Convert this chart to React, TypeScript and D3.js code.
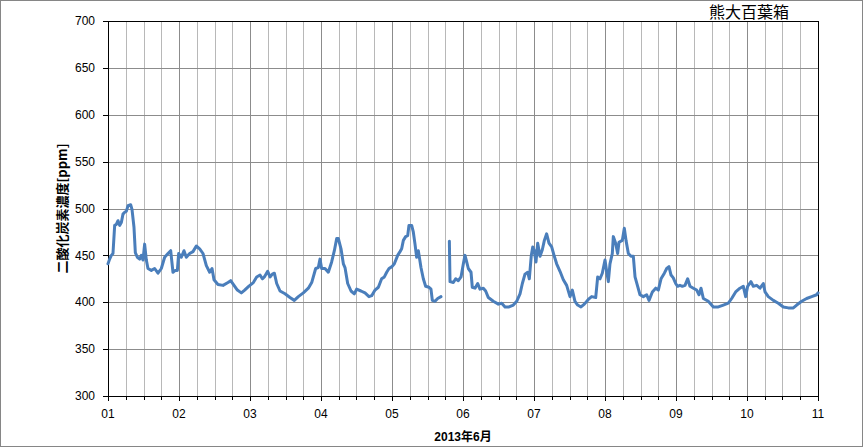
import * as d3 from 'd3';

// elapsed days since 2013-06-01 00:00 (0 = "01", 10 = "11")
const tDays: number[] = [
  0.0, 0.023, 0.047, 0.07, 0.094, 0.117, 0.141, 0.164, 0.188, 0.211, 0.235, 0.258, 0.282, 0.319, 0.338,
  0.366, 0.385, 0.413, 0.446, 0.469, 0.493, 0.516, 0.54, 0.563, 0.61, 0.657, 0.704, 0.751, 0.798, 0.845,
  0.883, 0.915, 0.948, 0.977, 0.995, 1.033, 1.07, 1.103, 1.15, 1.197, 1.244, 1.291, 1.338, 1.385, 1.432,
  1.465, 1.493, 1.549, 1.62, 1.69, 1.728, 1.775, 1.822, 1.878, 1.925, 1.981,
  2.047, 2.094, 2.141, 2.174, 2.202, 2.249, 2.282, 2.315, 2.343, 2.376, 2.423, 2.493, 2.563, 2.624, 2.681,
  2.751, 2.822, 2.869, 2.925, 2.962, 2.986, 3.009, 3.056, 3.103, 3.15, 3.188, 3.221, 3.244, 3.282, 3.315,
  3.338, 3.376, 3.423, 3.469, 3.502, 3.563, 3.62, 3.676, 3.714, 3.761, 3.808, 3.854, 3.892, 3.925, 3.958,
  4.0, 4.033, 4.08, 4.113, 4.136, 4.16, 4.192, 4.221, 4.239, 4.277, 4.3, 4.324, 4.347, 4.371, 4.408, 4.441,
  4.474, 4.521, 4.549, 4.568, 4.606, 4.643, 4.69, 4.75,
  4.808, 4.817, 4.864, 4.897, 4.934, 4.972, 5.005, 5.028, 5.052, 5.075, 5.113, 5.131, 5.169, 5.207, 5.239,
  5.286, 5.319, 5.357, 5.427, 5.498, 5.545, 5.592, 5.648, 5.709, 5.756, 5.803, 5.836, 5.873, 5.911, 5.934,
  5.962, 5.982, 6.0, 6.028, 6.052, 6.085, 6.117, 6.146, 6.178, 6.211, 6.249, 6.286, 6.319, 6.366, 6.413,
  6.46, 6.507, 6.54, 6.577, 6.615, 6.662, 6.709, 6.765, 6.812, 6.869, 6.897, 6.93, 6.962, 7.0, 7.023,
  7.047, 7.07, 7.103, 7.117, 7.15, 7.178, 7.197, 7.244, 7.272, 7.296, 7.329, 7.366, 7.399, 7.423, 7.46,
  7.493, 7.54, 7.587, 7.62, 7.667, 7.714, 7.751, 7.789, 7.836, 7.869, 7.901, 7.93, 7.962, 7.995,
  8.023, 8.056, 8.089, 8.127, 8.164, 8.197, 8.244, 8.291, 8.324, 8.352, 8.385, 8.455, 8.526, 8.596, 8.667,
  8.737, 8.784, 8.84, 8.901, 8.948, 8.981, 9.009, 9.056, 9.089, 9.136, 9.183, 9.23, 9.254, 9.3, 9.371,
  9.441, 9.512, 9.582, 9.653, 9.7, 9.77, 9.84, 9.911, 9.981, 10.0,
];

// CO2 concentration [ppm]; null = missing record
const co2: (number | null)[] = [
  441, 446, 450, 452, 482, 483, 487, 482, 485, 494, 496, 497, 503, 504, 499,
  480, 453, 448, 446, 450, 445, 462, 445, 436, 434, 436, 431, 436, 448, 452,
  455, 432, 434, 434, 452, 448, 455, 448, 452, 454, 460, 457, 452, 439, 432,
  436, 424, 419, 418, 421, 423, 418, 413, 410, 413, 417,
  421, 427, 429, 425, 427, 433, 427, 430, 431, 420, 412, 409, 405, 402, 406,
  410, 415, 421, 436, 437, 446, 436, 436, 432, 443, 455, 468, 468, 457, 441,
  437, 420, 412, 409, 414, 412, 410, 406, 407, 413, 416, 425, 427, 432, 436,
  438, 441, 450, 454, 457, 466, 470, 471, 482, 482, 475, 462, 448, 455, 437, 425,
  417, 416, 414, 402, 401, 404, 406, null,
  465, 422, 421, 425, 423, 427, 441, 450, 443, 436, 432, 416, 415, 420, 414,
  415, 412, 405, 401, 398, 399, 395, 395, 397, 401, 409, 420, 430, 432, 425,
  450, 459, 456, 443, 463, 449, 456, 466, 473, 463, 459, 449, 441, 433, 424,
  418, 406, 413, 401, 397, 395, 398, 403, 406, 405, 427, 425, 431, 445, 433,
  422, 441, 452, 470, 463, 452, 464, 466, 479, 466, 452, 449, 449, 427, 417,
  408, 406, 408, 402, 411, 415, 413, 425, 431, 436, 438, 429, 426, 420,
  417, 418, 417, 418, 425, 417, 415, 413, 408, 415, 404, 401, 395, 395, 397,
  399, 404, 411, 415, 417, 406, 417, 422, 417, 418, 415, 420, 411, 406, 402,
  399, 395, 394, 394, 397, 401, 404, 406, 408, 410,
];

const dayLabels: string[] = ['01', '02', '03', '04', '05', '06', '07', '08', '09', '10', '11'];
const yTicks: number[] = [300, 350, 400, 450, 500, 550, 600, 650, 700];

const title = '熊大百葉箱';
const yTitle = '二酸化炭素濃度[ppm]';
const xTitle = '2013年6月';

export default function App() {
  const width = 863;
  const height = 447;
  const margin = { top: 21, right: 45, bottom: 51, left: 108 };

  const x = d3.scaleLinear().domain([0, 10]).range([margin.left, width - margin.right]);
  const y = d3.scaleLinear().domain([300, 700]).range([height - margin.bottom, margin.top]);

  const points = tDays.map((t, i) => ({ t, v: co2[i] }));
  const line = d3.line<{ t: number; v: number | null }>()
    .defined(d => d.v !== null)
    .x(d => x(d.t))
    .y(d => y(d.v as number));

  // quarter-day grid (every 6 hours)
  const quarters = d3.range(0, 40.001, 1).map(q => q / 4);
  const x0 = x(0), x1 = x(10), y0 = y(300), y1 = y(700);
  const font = '"Liberation Sans", Arial, "Noto Sans CJK JP", sans-serif';

  return (
    <svg width={width} height={height} style={{ position: 'absolute', left: 0, top: 0, background: '#fff' }}>
      <rect x={0.5} y={0.5} width={width - 1} height={height - 1} fill="#fff" stroke="#868686" />

      {/* vertical grid */}
      {quarters.map((q, i) => (
        <line key={'vg' + i} x1={Math.round(x(q)) + 0.5} x2={Math.round(x(q)) + 0.5} y1={y1} y2={y0}
          stroke={i % 4 === 0 ? '#8c8c8c' : '#b8b8b8'} strokeWidth={1} />
      ))}
      {/* horizontal grid */}
      {yTicks.map(v => (
        <line key={'hg' + v} x1={x0} x2={x1} y1={Math.round(y(v)) + 0.5} y2={Math.round(y(v)) + 0.5}
          stroke="#8c8c8c" strokeWidth={1} />
      ))}

      {/* plot frame */}
      <rect x={Math.round(x0) + 0.5} y={Math.round(y1) + 0.5} width={Math.round(x1 - x0)} height={Math.round(y0 - y1)}
        fill="none" stroke="#000" strokeWidth={1} />

      {/* y axis ticks */}
      {yTicks.map(v => (
        <g key={'yt' + v}>
          <line x1={x0 - 5} x2={x0} y1={Math.round(y(v)) + 0.5} y2={Math.round(y(v)) + 0.5} stroke="#000" />
          <text x={x0 - 13} y={y(v)} dy="0.35em" textAnchor="end" fontFamily={font} fontSize={12} fill="#000">{v}</text>
        </g>
      ))}

      {/* x axis ticks */}
      {quarters.map((q, i) => (
        <line key={'xt' + i} x1={Math.round(x(q)) + 0.5} x2={Math.round(x(q)) + 0.5} y1={y0} y2={y0 + (i % 4 === 0 ? 5 : 4)}
          stroke="#000" />
      ))}
      {dayLabels.map((lab, i) => (
        <text key={'xl' + i} x={x(i)} y={y0 + 18} dy="0.35em" textAnchor="middle" fontFamily={font} fontSize={12} fill="#000">{lab}</text>
      ))}

      {/* data */}
      <path d={line(points) || ''} fill="none" stroke="#4A7EBB" strokeWidth={3} strokeLinejoin="round" strokeLinecap="round" />

      {/* titles */}
      <text x={749} y={18} textAnchor="middle" fontFamily='"Noto Sans CJK JP", sans-serif' fontSize={16} fill="#000">{title}</text>
      <text x={(x0 + x1) / 2} y={441} textAnchor="middle" fontFamily={font} fontSize={12} fontWeight="bold" fill="#000">{xTitle}</text>
      <text transform={`translate(67,${(y0 + y1) / 2}) rotate(-90)`} textAnchor="middle" fontFamily='"Noto Sans CJK JP", sans-serif'
        fontSize={13} fontWeight="bold" fill="#000">{yTitle}</text>
    </svg>
  );
}
